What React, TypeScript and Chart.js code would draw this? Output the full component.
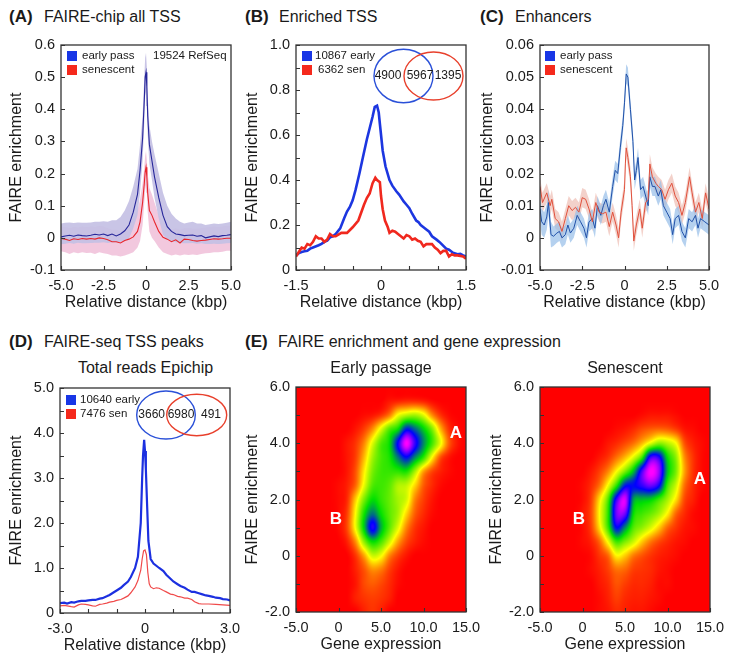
import React, { useEffect, useRef } from "react";
import { Chart, registerables } from "chart.js";

Chart.register(...registerables);

const FONT = '"Liberation Sans", Arial, sans-serif';
const INK = "#333333";
const TEXT = "#1a1a1a";

// ---------- Panel A ----------
const aX = [-5,-4.75,-4.5,-4.25,-4,-3.75,-3.5,-3.25,-3,-2.75,-2.5,-2.25,-2,-1.75,-1.5,-1.25,-1,-0.75,-0.5,-0.35,-0.2,-0.1,-0.05,0,0.05,0.1,0.2,0.35,0.5,0.75,1,1.25,1.5,1.75,2,2.25,2.5,2.75,3,3.25,3.5,3.75,4,4.25,4.5,4.75,5];
const aEarly = [0.003,0.006,0.008,0.005,0.009,0.007,0.006,0.008,0.011,0.009,0.012,0.007,0.012,0.006,0.012,0.022,0.04,0.08,0.135,0.21,0.31,0.43,0.5,0.515,0.47,0.38,0.29,0.24,0.19,0.125,0.07,0.035,0.02,0.012,0.01,0.007,0.008,0.009,0.005,0.007,0,0.003,0.006,0.004,0.007,0.008,0.01];
const aSen = [-0.002,-0.004,-0.008,-0.003,-0.005,-0.002,-0.004,-0.002,-0.004,0,-0.002,-0.006,-0.012,-0.012,-0.016,-0.008,-0.004,0.003,0.02,0.05,0.11,0.17,0.205,0.22,0.19,0.14,0.085,0.07,0.05,0.02,0.002,-0.004,-0.012,-0.006,-0.016,-0.004,-0.005,-0.008,-0.01,-0.008,-0.007,-0.005,-0.003,-0.004,-0.003,-0.001,-0.001];
const aEarlyUp = [0.045,0.047,0.048,0.046,0.048,0.047,0.047,0.048,0.05,0.05,0.052,0.05,0.055,0.055,0.065,0.085,0.115,0.16,0.215,0.29,0.38,0.5,0.56,0.575,0.53,0.44,0.35,0.3,0.26,0.2,0.14,0.1,0.075,0.06,0.05,0.045,0.048,0.05,0.045,0.045,0.04,0.042,0.045,0.043,0.045,0.047,0.05];
const aEarlyLo = [-0.02,-0.018,-0.016,-0.018,-0.015,-0.017,-0.017,-0.016,-0.015,-0.015,-0.014,-0.016,-0.014,-0.014,-0.012,-0.008,-0.002,0.03,0.07,0.14,0.24,0.36,0.44,0.455,0.41,0.32,0.23,0.18,0.125,0.06,0.01,-0.005,-0.01,-0.014,-0.016,-0.017,-0.017,-0.016,-0.018,-0.017,-0.019,-0.019,-0.018,-0.019,-0.018,-0.017,-0.016];
const aSenUp = [0.035,0.033,0.03,0.034,0.032,0.035,0.033,0.035,0.034,0.037,0.035,0.03,0.025,0.025,0.02,0.03,0.04,0.06,0.085,0.12,0.17,0.22,0.255,0.27,0.24,0.2,0.155,0.135,0.11,0.07,0.05,0.035,0.025,0.03,0.025,0.03,0.03,0.028,0.028,0.03,0.032,0.033,0.035,0.033,0.035,0.037,0.037];
const aSenLo = [-0.042,-0.045,-0.05,-0.045,-0.048,-0.045,-0.047,-0.046,-0.05,-0.045,-0.048,-0.05,-0.055,-0.055,-0.058,-0.055,-0.05,-0.045,-0.03,-0.01,0.04,0.11,0.15,0.165,0.14,0.08,0.02,0,-0.01,-0.03,-0.045,-0.05,-0.055,-0.052,-0.055,-0.052,-0.053,-0.052,-0.053,-0.05,-0.048,-0.047,-0.045,-0.045,-0.043,-0.04,-0.04];
const aXTicks = [-5,-2.5,0,2.5,5];
const aXLabels = ["-5.0","-2.5","0","2.5","5.0"];
const aYTicks = [-0.1,0,0.1,0.2,0.3,0.4,0.5,0.6];
const aYLabels = ["-0.1","0","0.1","0.2","0.3","0.4","0.5","0.6"];

// ---------- Panel B ----------
const bEarly: number[][] = [[-1.5,0.065],[-1.45,0.075],[-1.4,0.08],[-1.35,0.083],[-1.3,0.085],[-1.25,0.095],[-1.2,0.1],[-1.1,0.11],[-1.05,0.116],[-1,0.125],[-0.95,0.13],[-0.9,0.145],[-0.85,0.15],[-0.8,0.16],[-0.72,0.185],[-0.65,0.23],[-0.6,0.26],[-0.55,0.28],[-0.5,0.31],[-0.45,0.355],[-0.38,0.43],[-0.32,0.5],[-0.25,0.58],[-0.2,0.63],[-0.15,0.68],[-0.11,0.725],[-0.07,0.73],[-0.04,0.7],[-0.02,0.65],[0.03,0.53],[0.08,0.46],[0.15,0.4],[0.2,0.375],[0.27,0.35],[0.32,0.335],[0.36,0.32],[0.4,0.305],[0.45,0.29],[0.5,0.275],[0.55,0.25],[0.62,0.22],[0.66,0.213],[0.7,0.2],[0.75,0.19],[0.8,0.18],[0.85,0.17],[0.9,0.15],[0.98,0.135],[1.03,0.125],[1.07,0.115],[1.15,0.095],[1.2,0.09],[1.27,0.077],[1.35,0.07],[1.4,0.072],[1.45,0.065],[1.5,0.06]];
const bSen: number[][] = [[-1.5,0.06],[-1.45,0.08],[-1.4,0.1],[-1.35,0.095],[-1.3,0.115],[-1.25,0.11],[-1.2,0.125],[-1.15,0.15],[-1.1,0.14],[-1.05,0.14],[-1,0.125],[-0.95,0.135],[-0.9,0.16],[-0.85,0.15],[-0.8,0.15],[-0.7,0.165],[-0.6,0.165],[-0.5,0.19],[-0.4,0.22],[-0.3,0.29],[-0.25,0.32],[-0.2,0.34],[-0.15,0.385],[-0.1,0.41],[-0.07,0.4],[-0.02,0.39],[0,0.33],[0.03,0.27],[0.07,0.22],[0.12,0.19],[0.15,0.165],[0.2,0.175],[0.25,0.17],[0.3,0.16],[0.35,0.15],[0.4,0.14],[0.45,0.155],[0.5,0.15],[0.55,0.135],[0.6,0.14],[0.65,0.13],[0.7,0.125],[0.75,0.105],[0.8,0.115],[0.85,0.115],[0.9,0.115],[0.95,0.1],[1,0.09],[1.05,0.075],[1.1,0.085],[1.15,0.085],[1.2,0.06],[1.25,0.07],[1.3,0.065],[1.35,0.065],[1.45,0.06],[1.5,0.05]];
const bXTicks = [-1.5,-1,-0.5,0,0.5,1,1.5];
const bXLabels = ["-1.5","","","0","","","1.5"];
const bYTicks = [0,0.1,0.2,0.3,0.4,0.5,0.6,0.7,0.8,0.9,1];
const bYLabels = ["0","","0.2","","0.4","","0.6","","0.8","","1.0"];

// ---------- Panel C ---------- [distance, value, spread]
const cEarly: number[][] = [[-5,0.009,0.004],[-4.9,0.005,0.004],[-4.75,0.004,0.004],[-4.6,0.0065,0.004],[-4.5,0.011,0.004],[-4.35,0.001,0.004],[-4.2,0.0005,0.003],[-4,0.0015,0.003],[-3.85,0.002,0.003],[-3.7,0,0.003],[-3.5,0.001,0.003],[-3.35,0.004,0.003],[-3.2,0.0015,0.003],[-3,0.003,0.003],[-2.8,0.007,0.003],[-2.6,0.005,0.003],[-2.4,0.003,0.003],[-2.25,0,0.003],[-2.1,0.005,0.003],[-1.9,0.006,0.003],[-1.75,0.003,0.003],[-1.6,0.01,0.003],[-1.4,0.007,0.003],[-1.25,0.01,0.003],[-1.1,0.012,0.003],[-0.9,0.008,0.003],[-0.7,0.016,0.003],[-0.55,0.021,0.003],[-0.4,0.02,0.003],[-0.25,0.028,0.003],[-0.1,0.035,0.003],[0,0.042,0.003],[0.1,0.051,0.003],[0.2,0.05,0.003],[0.35,0.04,0.003],[0.5,0.03,0.003],[0.6,0.018,0.003],[0.7,0.021,0.003],[0.8,0.025,0.003],[0.95,0.015,0.003],[1.1,0.016,0.003],[1.3,0.012,0.003],[1.4,0.01,0.003],[1.5,0.019,0.003],[1.65,0.016,0.003],[1.8,0.016,0.003],[2,0.013,0.003],[2.15,0.015,0.003],[2.3,0.01,0.003],[2.5,0.008,0.003],[2.7,0.006,0.003],[2.85,0.001,0.003],[3,0.006,0.003],[3.2,0.007,0.003],[3.4,0.002,0.003],[3.6,0,0.003],[3.8,0.006,0.003],[4,0.005,0.003],[4.2,0.007,0.003],[4.35,0.003,0.003],[4.5,0.006,0.003],[4.75,0.005,0.003],[5,0.004,0.003]];
const cSen: number[][] = [[-5,0.016,0.003],[-4.85,0.011,0.003],[-4.6,0.014,0.003],[-4.4,0.01,0.003],[-4.3,0.012,0.003],[-4.1,0.006,0.003],[-3.9,0.005,0.003],[-3.7,0.002,0.003],[-3.5,0.006,0.003],[-3.3,0.01,0.003],[-3.1,0.0085,0.003],[-2.9,0.0095,0.003],[-2.7,0.008,0.003],[-2.5,0.0125,0.003],[-2.3,0.012,0.003],[-2.1,0.009,0.003],[-1.9,0.005,0.003],[-1.7,0.011,0.003],[-1.5,0.008,0.003],[-1.3,0.0075,0.003],[-1.1,0.008,0.003],[-0.9,0.0035,0.003],[-0.7,0.008,0.003],[-0.5,0.004,0.003],[-0.35,0,0.003],[-0.2,0.008,0.003],[0,0.015,0.003],[0.05,0.023,0.003],[0.1,0.028,0.003],[0.2,0.025,0.003],[0.35,0.019,0.003],[0.45,0.01,0.003],[0.55,-0.001,0.003],[0.7,0.004,0.003],[0.9,0.009,0.003],[1.05,0.003,0.003],[1.25,0.011,0.003],[1.4,0.012,0.003],[1.5,0.023,0.003],[1.65,0.019,0.003],[1.85,0.017,0.003],[2,0.016,0.003],[2.2,0.015,0.003],[2.4,0.012,0.003],[2.6,0.015,0.003],[2.8,0.017,0.003],[3,0.013,0.003],[3.2,0.011,0.003],[3.4,0.007,0.003],[3.6,0.011,0.003],[3.85,0.019,0.003],[4,0.014,0.003],[4.2,0.008,0.003],[4.4,0.011,0.003],[4.6,0.006,0.003],[4.8,0.014,0.003],[5,0.009,0.003]];
const cYTicks = [-0.01,0,0.01,0.02,0.03,0.04,0.05,0.06];
const cYLabels = ["-0.01","0","0.01","0.02","0.03","0.04","0.05","0.06"];

// ---------- Panel D ----------
const dEarly: number[][] = [[-3,0.22],[-2.85,0.23],[-2.75,0.21],[-2.6,0.24],[-2.5,0.23],[-2.35,0.26],[-2.25,0.27],[-2.1,0.27],[-2,0.28],[-1.85,0.29],[-1.75,0.29],[-1.6,0.32],[-1.5,0.33],[-1.35,0.37],[-1.25,0.4],[-1.1,0.46],[-1,0.5],[-0.85,0.56],[-0.75,0.62],[-0.6,0.7],[-0.5,0.8],[-0.35,1],[-0.25,1.25],[-0.15,2],[-0.1,3],[-0.07,3.5],[-0.03,3.85],[0,3.6],[0.03,3.2],[0.08,2.3],[0.12,1.6],[0.2,1.2],[0.3,1.1],[0.4,1.05],[0.5,1],[0.65,0.93],[0.75,0.85],[0.9,0.76],[1,0.7],[1.15,0.64],[1.25,0.6],[1.4,0.56],[1.5,0.52],[1.65,0.47],[1.75,0.47],[1.9,0.44],[2,0.42],[2.15,0.39],[2.25,0.38],[2.4,0.36],[2.5,0.34],[2.65,0.33],[2.75,0.31],[2.9,0.3],[3,0.28]];
const dSen: number[][] = [[-3,0.16],[-2.85,0.17],[-2.75,0.16],[-2.6,0.14],[-2.5,0.13],[-2.35,0.18],[-2.25,0.2],[-2.1,0.19],[-2,0.18],[-1.85,0.16],[-1.75,0.15],[-1.6,0.19],[-1.5,0.2],[-1.35,0.22],[-1.25,0.24],[-1.1,0.26],[-1,0.28],[-0.85,0.3],[-0.75,0.33],[-0.6,0.38],[-0.5,0.45],[-0.35,0.58],[-0.25,0.72],[-0.15,0.95],[-0.1,1.2],[-0.05,1.38],[0,1.4],[0.05,1.3],[0.1,0.9],[0.15,0.65],[0.2,0.58],[0.3,0.54],[0.4,0.56],[0.5,0.55],[0.65,0.5],[0.75,0.47],[0.9,0.42],[1,0.41],[1.15,0.37],[1.25,0.36],[1.4,0.33],[1.5,0.33],[1.65,0.3],[1.75,0.25],[1.9,0.21],[2,0.2],[2.25,0.2],[2.5,0.19],[2.75,0.18],[3,0.17]];
const dXTicks = [-3,-2,-1,0,1,2,3];
const dXLabels = ["-3.0","","","0","","","3.0"];
const dYTicks = [0,0.5,1,1.5,2,2.5,3,3.5,4,4.5,5];
const dYLabels = ["0","","1.0","","2.0","","3.0","","4.0","","5.0"];

// ---------- Panel E ----------
const eXTicks = [-5,0,5,10,15];
const eXLabels = ["-5.0","0","5.0","10.0","15.0"];
const eYTicks = [-2,-1,0,1,2,3,4,5,6];
const eYLabels = ["-2.0","","0","","2.0","","4.0","","6.0"];
const heatX = [-5,-4,-3,-2,-1,0,1,2,3,4,5,6,7,8,9,10,11,12,13,14,15];
const heatY = [6,5.5,5,4.5,4,3.5,3,2.5,2,1.5,1,0.5,0,-0.5,-1,-1.5,-2];
const heatEarly = [
  [0,0,0,0,0,0,0,0,0,0,0,0,0,0,0,0,0,0,0,0,0],
  [0,0,0,0,0,0,0,0,0,0,0,0.2,0.3,0.4,0.4,0.3,0.1,0,0,0,0],
  [0,0,0,0,0,0,0,0,0.1,0.2,0.5,1.2,2.6,3.2,3.4,2.8,1.4,0.5,0.1,0,0],
  [0,0,0,0,0,0,0,0.2,0.6,1.4,2.8,4.2,5,7.2,6.4,5.2,3.8,1.8,0.5,0.1,0],
  [0,0,0,0,0,0,0.2,0.5,1.3,2.8,4.2,5,7.6,10,8,6,4.4,2.7,0.9,0.2,0],
  [0,0,0,0,0,0,0.2,0.6,1.8,3.4,4.3,4.8,6.2,7.4,6,4.6,2.5,0.8,0.2,0,0],
  [0,0,0,0,0,0,0.2,0.8,2.3,3.8,4.4,4.5,4.6,4.8,3.4,1.6,0.7,0.3,0.1,0,0],
  [0,0,0,0,0,0.1,0.3,1,2.7,4.2,4.4,4.1,3.3,3.1,2.1,0.9,0.4,0.1,0,0,0],
  [0,0,0,0,0,0.1,0.4,2,3.8,5,4.5,4,3.4,2.9,1.3,0.6,0.2,0,0,0,0],
  [0,0,0,0,0,0.1,0.6,2.5,4.8,6.2,5,4.1,3.4,2.1,0.9,0.4,0.1,0,0,0,0],
  [0,0,0,0,0,0.1,0.7,2.6,5.2,7.8,5.6,4.1,2.8,1.3,0.5,0.2,0,0,0,0,0],
  [0,0,0,0,0,0,0.3,1.4,3.6,5,4.3,3,1.6,0.7,0.3,0.1,0,0,0,0,0],
  [0,0,0,0,0,0,0,0.5,1.6,3,2.6,1.3,0.6,0.2,0,0,0,0,0,0,0],
  [0,0,0,0,0,0,0,0.3,0.8,1.4,1.2,0.6,0.2,0,0,0,0,0,0,0,0],
  [0,0,0,0,0,0,0,0.2,0.7,0.9,0.7,0.4,0.1,0,0,0,0,0,0,0,0],
  [0,0,0,0,0,0,0,0.3,0.5,0.6,0.5,0.3,0,0,0,0,0,0,0,0,0],
  [0,0,0,0,0,0,0,0,0.3,0.5,0.3,0,0,0,0,0,0,0,0,0,0],
];
const heatSen = [
  [0,0,0,0,0,0,0,0,0,0,0,0,0,0,0,0,0,0,0,0,0],
  [0,0,0,0,0,0,0,0,0,0,0,0,0,0,0,0,0,0,0,0,0],
  [0,0,0,0,0,0,0,0,0,0,0,0,0.1,0.2,0.2,0.2,0.1,0,0,0,0],
  [0,0,0,0,0,0,0,0,0,0.1,0.2,0.4,0.7,0.9,1,0.9,0.6,0.2,0.1,0,0],
  [0,0,0,0,0,0,0,0,0.2,0.4,0.7,1.1,1.8,2.8,3.6,3.2,2.5,0.8,0.3,0.1,0],
  [0,0,0,0,0,0,0,0.2,0.5,1.1,1.8,2.8,4.4,8,7.8,5,3.6,1.4,0.5,0.1,0],
  [0,0,0,0,0,0,0.2,0.6,1.3,2.5,3.8,5.4,8.2,10,9,5.4,3.8,1.6,0.5,0.1,0],
  [0,0,0,0,0,0.1,0.4,1.1,2.6,4.6,7.2,7.4,8,8.6,7.6,4.4,3,1.1,0.4,0.1,0],
  [0,0,0,0,0,0.1,0.6,2.2,4.2,8,9.6,5.8,5.4,5.2,4.4,3.4,2.2,0.7,0.3,0,0],
  [0,0,0,0,0,0.2,0.7,2.5,4.6,8.6,8.6,5,4.4,4,3.4,2.4,1,0.4,0.1,0,0],
  [0,0,0,0,0,0.1,0.6,2.2,4.4,7.4,6,4.2,3.6,2.9,2,1,0.5,0.2,0.1,0,0],
  [0,0,0,0,0,0.1,0.3,1,2.6,4.4,3.8,3,2,1.2,0.7,0.4,0.2,0.1,0,0,0],
  [0,0,0,0,0,0,0.1,0.5,1,2.4,2,1.2,0.8,0.5,0.3,0.2,0.1,0,0,0,0],
  [0,0,0,0,0,0,0.1,0.3,0.6,1.1,1,0.6,0.5,0.4,0.2,0.1,0,0,0,0,0],
  [0,0,0,0,0,0,0,0.2,0.4,0.8,0.6,0.4,0.4,0.3,0.1,0.1,0,0,0,0,0],
  [0,0,0,0,0,0,0,0.1,0.3,0.6,0.4,0.3,0.3,0.2,0.1,0,0,0,0,0,0],
  [0,0,0,0,0,0,0,0.1,0.2,0.4,0.3,0.2,0.2,0.1,0,0,0,0,0,0,0],
];

// ---------- Colours ----------
const BLUE_SWATCH = "#1836e6";
const RED_SWATCH = "#f5291c";
const heatStops: [number, number[]][] = [
  [0, [255, 0, 0]],
  [2.5, [255, 255, 0]],
  [5, [0, 225, 0]],
  [7.5, [0, 0, 255]],
  [10, [255, 0, 255]],
];

function heatColor(v: number): number[] {
  const t = Math.max(0, Math.min(10, v));
  for (let i = 1; i < heatStops.length; i++) {
    if (t <= heatStops[i][0]) {
      const [a, ca] = heatStops[i - 1];
      const [b, cb] = heatStops[i];
      const f = (t - a) / (b - a);
      return ca.map((c, k) => c + (cb[k] - c) * f);
    }
  }
  return heatStops[heatStops.length - 1][1];
}

function cubic(p0: number, p1: number, p2: number, p3: number, t: number) {
  return p1 + 0.5 * t * (p2 - p0 + t * (2 * p0 - 5 * p1 + 4 * p2 - p3 + t * (3 * (p1 - p2) + p3 - p0)));
}

function sampleGrid(grid: number[][], fx: number, fy: number) {
  const rows = grid.length, cols = grid[0].length;
  const ix = Math.floor(fx), iy = Math.floor(fy);
  const r = (i: number) => Math.max(0, Math.min(rows - 1, i));
  const c = (i: number) => Math.max(0, Math.min(cols - 1, i));
  const col: number[] = [];
  for (let j = -1; j <= 2; j++) {
    const row = grid[r(iy + j)];
    col.push(cubic(row[c(ix - 1)], row[c(ix)], row[c(ix + 1)], row[c(ix + 2)], fx - ix));
  }
  return cubic(col[0], col[1], col[2], col[3], fy - iy);
}

// Paints the dataset's density table through the chart's own scales.
const heatPlugin = {
  id: "heat",
  beforeDatasetsDraw(chart: any) {
    const grid = chart.options.plugins.heat?.grid;
    if (!grid) return;
    const { left, top, width, height } = chart.chartArea;
    const w = Math.round(width), h = Math.round(height);
    const off = document.createElement("canvas");
    off.width = w; off.height = h;
    const octx = off.getContext("2d")!;
    const img = octx.createImageData(w, h);
    const sx = chart.scales.x, sy = chart.scales.y;
    const xStep = heatX[1] - heatX[0];
    const yStep = heatY[0] - heatY[1];
    for (let py = 0; py < h; py++) {
      const vy = sy.getValueForPixel(top + py + 0.5);
      const fy = (heatY[0] - vy) / yStep;
      for (let px = 0; px < w; px++) {
        const vx = sx.getValueForPixel(left + px + 0.5);
        const fx = (vx - heatX[0]) / xStep;
        const col = heatColor(sampleGrid(grid, fx, fy));
        const o = (py * w + px) * 4;
        img.data[o] = col[0]; img.data[o + 1] = col[1]; img.data[o + 2] = col[2]; img.data[o + 3] = 255;
      }
    }
    octx.putImageData(img, 0, 0);
    chart.ctx.drawImage(off, left, top, width, height);
  },
};

// Frame, inward ticks, legend swatches, Venn rings and notes; offsets are from the plot's top-left corner.
const notesPlugin = {
  id: "notes",
  afterDraw(chart: any) {
    const ctx = chart.ctx;
    const a = chart.chartArea;
    const n = chart.options.plugins.notes || {};
    ctx.save();
    ctx.strokeStyle = INK;
    ctx.lineWidth = 1.1;
    ctx.beginPath();
    chart.scales.x.ticks.forEach((t: any) => {
      const px = Math.round(chart.scales.x.getPixelForValue(t.value)) + 0.5;
      ctx.moveTo(px, a.bottom);
      ctx.lineTo(px, a.bottom - TICK_LEN);
    });
    chart.scales.y.ticks.forEach((t: any) => {
      const py = Math.round(chart.scales.y.getPixelForValue(t.value)) + 0.5;
      ctx.moveTo(a.left, py);
      ctx.lineTo(a.left + TICK_LEN, py);
    });
    ctx.stroke();
    ctx.lineWidth = 1.3;
    ctx.strokeRect(a.left, a.top, a.width, a.height);
    (n.rings || []).forEach((r: any) => {
      ctx.beginPath();
      ctx.ellipse(a.left + r.x, a.top + r.y, r.rx, r.ry, 0, 0, Math.PI * 2);
      ctx.strokeStyle = r.color;
      ctx.lineWidth = 1.4;
      ctx.stroke();
    });
    (n.swatches || []).forEach((s: any) => {
      ctx.fillStyle = s.color;
      ctx.fillRect(a.left + s.x, a.top + s.y, 10, 10);
    });
    (n.texts || []).forEach((t: any) => {
      ctx.font = `${t.bold ? "bold " : ""}${t.size || 11.5}px ${FONT}`;
      ctx.fillStyle = t.color || TEXT;
      ctx.textAlign = t.align || "left";
      ctx.textBaseline = "middle";
      ctx.fillText(t.text, a.left + t.x, a.top + t.y);
    });
    ctx.restore();
  },
};

const line = (data: number[][], color: string, width: number) => ({
  data: data.map(([x, y]) => ({ x, y })),
  showLine: true, borderColor: color, borderWidth: width, pointRadius: 0, fill: false, tension: 0,
});
const band = (xs: number[], ys: number[], color: string, fill: any) => ({
  data: xs.map((x, i) => ({ x, y: ys[i] })),
  showLine: true, borderColor: "transparent", borderWidth: 0, pointRadius: 0, backgroundColor: color, fill, tension: 0,
});
const zip = (xs: number[], ys: number[]) => xs.map((x, i) => [x, ys[i]]);
const col = (rows: number[][], k: number) => rows.map((r) => r[k]);
const signedSum = (rows: number[][], sign: number) => rows.map((r) => r[1] + sign * r[2]);

const heatDataset = (grid: number[][]) => ({
  data: heatY.flatMap((y, r) => heatX.map((x, c) => ({ x, y, v: grid[r][c] }))),
  pointRadius: 0,
});

interface Panel {
  plot: number[];
  yTitleX: number;
  xTitle: string;
  x: { min: number; max: number; ticks: number[]; labels: string[] };
  y: { min: number; max: number; ticks: number[]; labels: string[] };
  datasets: any[];
  notes?: any;
  grid?: number[][];
}

const swatchPair = (x: number, y1: number, y2: number) => [
  { x, y: y1, color: BLUE_SWATCH },
  { x, y: y2, color: RED_SWATCH },
];

const panels: Panel[] = [
  {
    plot: [61, 45, 231, 270], yTitleX: 17, xTitle: "Relative distance (kbp)",
    x: { min: -5, max: 5, ticks: aXTicks, labels: aXLabels },
    y: { min: -0.1, max: 0.6, ticks: aYTicks, labels: aYLabels },
    datasets: [
      line(zip(aX, aSen), "#e8262c", 1.1),
      line(zip(aX, aEarly), "#26269a", 1.1),
      band(aX, aEarlyUp, "rgba(196,192,228,0.92)", "+1"),
      band(aX, aEarlyLo, "transparent", false),
      band(aX, aSenUp, "rgba(240,190,216,0.85)", "+1"),
      band(aX, aSenLo, "transparent", false),
    ],
    notes: {
      swatches: swatchPair(6, 6, 20),
      texts: [
        { text: "early pass", x: 21, y: 11 },
        { text: "senescent", x: 21, y: 25 },
        { text: "19524 RefSeq", x: 92, y: 11 },
      ],
    },
  },
  {
    plot: [296, 45, 466, 270], yTitleX: 253, xTitle: "Relative distance (kbp)",
    x: { min: -1.5, max: 1.5, ticks: bXTicks, labels: bXLabels },
    y: { min: 0, max: 1, ticks: bYTicks, labels: bYLabels },
    datasets: [line(bSen, "#f0281e", 2.6), line(bEarly, "#1c36e0", 2.6)],
    notes: {
      swatches: swatchPair(6, 6, 20),
      rings: [
        { x: 107.5, y: 31, rx: 29.5, ry: 26.7, color: "#2a50d8" },
        { x: 137.5, y: 31, rx: 29.5, ry: 24, color: "#e8402c" },
      ],
      texts: [
        { text: "10867 early", x: 19, y: 11 },
        { text: "6362 sen", x: 22, y: 25 },
        { text: "4900", x: 92, y: 31, align: "center", size: 12 },
        { text: "5967", x: 124, y: 31, align: "center", size: 12 },
        { text: "1395", x: 152, y: 31, align: "center", size: 12 },
      ],
    },
  },
  {
    plot: [540, 45, 709, 270], yTitleX: 488, xTitle: "Relative distance (kbp)",
    x: { min: -5, max: 5, ticks: aXTicks, labels: aXLabels },
    y: { min: -0.01, max: 0.06, ticks: cYTicks, labels: cYLabels },
    datasets: [
      line(cSen, "#e0503c", 1),
      line(cEarly, "#2050a8", 1),
      band(col(cEarly, 0), signedSum(cEarly, 1), "rgba(150,190,232,0.7)", "+1"),
      band(col(cEarly, 0), signedSum(cEarly, -1), "transparent", false),
      band(col(cSen, 0), signedSum(cSen, 1), "rgba(238,190,180,0.7)", "+1"),
      band(col(cSen, 0), signedSum(cSen, -1), "transparent", false),
    ],
    notes: {
      swatches: swatchPair(5, 6, 20),
      texts: [
        { text: "early pass", x: 20, y: 11 },
        { text: "senescent", x: 20, y: 25 },
      ],
    },
  },
  {
    plot: [60, 388, 230, 613], yTitleX: 17, xTitle: "Relative distance (kbp)",
    x: { min: -3, max: 3, ticks: dXTicks, labels: dXLabels },
    y: { min: 0, max: 5, ticks: dYTicks, labels: dYLabels },
    datasets: [line(dSen, "#f04a4a", 1.2), line(dEarly, "#1c30e0", 2.2)],
    notes: {
      swatches: swatchPair(6, 7, 21),
      rings: [
        { x: 106, y: 27, rx: 29.3, ry: 24, color: "#2a50d8" },
        { x: 136.7, y: 27, rx: 30, ry: 20.7, color: "#e8402c" },
      ],
      texts: [
        { text: "10640 early", x: 20, y: 12 },
        { text: "7476 sen", x: 20, y: 26 },
        { text: "3660", x: 91.7, y: 27, align: "center", size: 12 },
        { text: "6980", x: 121, y: 27, align: "center", size: 12 },
        { text: "491", x: 151, y: 27, align: "center", size: 12 },
      ],
    },
  },
  {
    plot: [296, 387, 466, 612], yTitleX: 253, xTitle: "Gene expression",
    x: { min: -5, max: 15, ticks: eXTicks, labels: eXLabels },
    y: { min: -2, max: 6, ticks: eYTicks, labels: eYLabels },
    datasets: [heatDataset(heatEarly)],
    grid: heatEarly,
    notes: {
      texts: [
        { text: "A", x: 160, y: 46, align: "center", size: 17, bold: true, color: "#ffffff" },
        { text: "B", x: 40, y: 132, align: "center", size: 17, bold: true, color: "#ffffff" },
      ],
    },
  },
  {
    plot: [540, 387, 710, 612], yTitleX: 497, xTitle: "Gene expression",
    x: { min: -5, max: 15, ticks: eXTicks, labels: eXLabels },
    y: { min: -2, max: 6, ticks: eYTicks, labels: eYLabels },
    datasets: [heatDataset(heatSen)],
    grid: heatSen,
    notes: {
      texts: [
        { text: "A", x: 160, y: 92, align: "center", size: 17, bold: true, color: "#ffffff" },
        { text: "B", x: 39, y: 132, align: "center", size: 17, bold: true, color: "#ffffff" },
      ],
    },
  },
];

const headings = [
  { tag: "(A)", text: "FAIRE-chip all TSS", tagX: 9, textX: 44, y: 17 },
  { tag: "(B)", text: "Enriched TSS", tagX: 245, textX: 279, y: 17 },
  { tag: "(C)", text: "Enhancers", tagX: 480, textX: 515, y: 17 },
  { tag: "(D)", text: "FAIRE-seq TSS peaks", tagX: 9, textX: 44, y: 342 },
  { tag: "(E)", text: "FAIRE enrichment and gene expression", tagX: 245, textX: 278, y: 342 },
];
const subtitles = [
  { text: "Total reads Epichip", x: 145.5, y: 368 },
  { text: "Early passage", x: 381, y: 368 },
  { text: "Senescent", x: 625, y: 368 },
];

const PAD_TOP = 10, PAD_RIGHT = 18, X_AXIS_H = 44, TICK_LEN = 4;

function PanelChart({ p }: { p: Panel }) {
  const ref = useRef<HTMLCanvasElement>(null);
  const [l, t, r, b] = p.plot;
  const canvasLeft = p.yTitleX - 10;
  const yW = l - canvasLeft;
  const width = yW + (r - l) + PAD_RIGHT;
  const height = PAD_TOP + (b - t) + X_AXIS_H;
  useEffect(() => {
    const zero = (s: any) => { s.paddingLeft = s.paddingRight = s.paddingTop = s.paddingBottom = 0; };
    const axisBase = {
      type: "linear",
      border: { display: false },
      grid: { display: false, drawOnChartArea: false, drawTicks: false },
    };
    const chart = new Chart(ref.current!, {
      type: "scatter",
      data: { datasets: p.datasets },
      plugins: [heatPlugin, notesPlugin],
      options: {
        responsive: false,
        animation: false,
        layout: { padding: { top: PAD_TOP, right: PAD_RIGHT, left: 0, bottom: 0 } },
        scales: {
          x: {
            ...axisBase,
            min: p.x.min, max: p.x.max,
            afterBuildTicks: (s: any) => { s.ticks = p.x.ticks.map((value) => ({ value })); },
            afterFit: (s: any) => { s.height = X_AXIS_H; zero(s); },
            ticks: {
              autoSkip: false, maxRotation: 0, minRotation: 0, padding: 7, color: TEXT,
              font: { family: FONT, size: 14.5 },
              callback: (_v: any, i: number) => p.x.labels[i],
            },
            title: { display: true, text: p.xTitle, color: TEXT, font: { family: FONT, size: 16 }, padding: { top: 0, bottom: 2 } },
          },
          y: {
            ...axisBase,
            min: p.y.min, max: p.y.max,
            afterBuildTicks: (s: any) => { s.ticks = p.y.ticks.map((value) => ({ value })); },
            afterFit: (s: any) => { s.width = yW; zero(s); },
            ticks: {
              autoSkip: false, padding: 6, color: TEXT,
              font: { family: FONT, size: 14.5 },
              callback: (_v: any, i: number) => p.y.labels[i],
            },
            title: { display: true, text: "FAIRE enrichment", color: TEXT, font: { family: FONT, size: 16 }, padding: { top: 0, bottom: 0 } },
          },
        },
        plugins: {
          legend: { display: false },
          tooltip: { enabled: false },
          heat: { grid: p.grid },
          notes: p.notes,
        },
      } as any,
    });
    return () => chart.destroy();
  }, []);
  return (
    <canvas
      ref={ref}
      width={width}
      height={height}
      style={{ position: "absolute", left: canvasLeft, top: t - PAD_TOP, width, height }}
    />
  );
}

const textBase: React.CSSProperties = {
  position: "absolute",
  fontFamily: FONT,
  color: TEXT,
  whiteSpace: "nowrap",
  lineHeight: 1,
};

export default function App() {
  return (
    <div style={{ position: "absolute", left: 0, top: 0, width: 729, height: 663, background: "#fff", overflow: "hidden" }}>
      {panels.map((p, i) => <PanelChart key={i} p={p} />)}
      {headings.map((h) => (
        <React.Fragment key={h.tag}>
          <div style={{ ...textBase, left: h.tagX, top: h.y - 9, fontSize: 17, fontWeight: 700 }}>{h.tag}</div>
          <div style={{ ...textBase, left: h.textX, top: h.y - 8, fontSize: 16 }}>{h.text}</div>
        </React.Fragment>
      ))}
      {subtitles.map((s) => (
        <div key={s.text} style={{ ...textBase, left: s.x, top: s.y - 8, fontSize: 16, transform: "translateX(-50%)" }}>{s.text}</div>
      ))}
    </div>
  );
}
